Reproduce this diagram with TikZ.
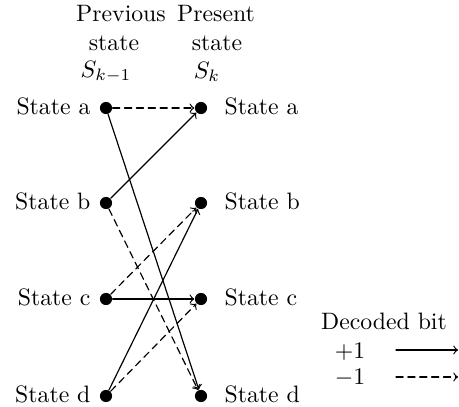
\documentclass[tikz,border=0pt]{standalone}
\usepackage{amsmath,amssymb}
\usepackage{tikz}
\usetikzlibrary{calc}

\begin{document}
\begin{tikzpicture}[x=0.0148cm, y=-0.0148cm, line join=round, line cap=round, >=to, line width=0.5pt]
	
	\tikzset{
		dot/.style={circle, fill, inner sep=0pt, minimum size=0.18cm},
		txt/.style={inner sep=0pt, text height=1.6ex, text depth=0.25ex},
		minus1/.style={->, dash pattern=on 3pt off 2pt}
	}
	
	% --- 0. 画布大小 ---
	\useasboundingbox (0,0) rectangle (459,407);
	
	% --- 1. 表头 ---
	\node[txt] (prev1) at (121,15) {Previous};
	\node[txt] (prev2) at (114,44) {state};
	\node[inner sep=0pt] (prev3) at (106,72) {$S_{k-1}$};
	\node[txt] (pres1) at (216,15) {Present};
	\node[txt] (pres2) at (217,44) {state};
	\node[inner sep=0pt] (pres3) at (207,72) {$S_k$};
	
	% --- 2. 状态点 (左: 前一状态, 右: 当前状态) ---
	\node[dot] (La) at (106,108) {};
	\node[dot] (Lb) at (106,203) {};
	\node[dot] (Lc) at (106,299) {};
	\node[dot] (Ld) at (106,396) {};
	
	\node[dot] (Ra) at (201,108) {};
	\node[dot] (Rb) at (201,203) {};
	\node[dot] (Rc) at (201,299) {};
	\node[dot] (Rd) at (201,396) {};
	
	% --- 3. 状态名称 ---
	\node[txt, anchor=east] (tLa) at (91,108) {State a};
	\node[txt, anchor=east] (tLb) at (91,203) {State b};
	\node[txt, anchor=east] (tLc) at (91,299) {State c};
	\node[txt, anchor=east] (tLd) at (91,396) {State d};
	
	\node[txt, anchor=west] (tRa) at (224,108) {State a};
	\node[txt, anchor=west] (tRb) at (224,203) {State b};
	\node[txt, anchor=west] (tRc) at (224,299) {State c};
	\node[txt, anchor=west] (tRd) at (224,396) {State d};
	
	% --- 4. 状态转移 ---
	% 实线: 译码比特 +1
	\draw[->] (La) -- (Rd);
	\draw[->] (Lb) -- (Ra);
	\draw[->] (Lc) -- (Rc);
	\draw[->] (Ld) -- (Rb);
	
	% 虚线: 译码比特 -1
	\draw[minus1] (La) -- (Ra);
	\draw[minus1] (Lb) -- (Rd);
	\draw[minus1] (Lc) -- (Rb);
	\draw[minus1] (Ld) -- (Rc);
	
	% --- 5. 图例 ---
	\node[txt] (bit) at (384,323) {Decoded bit};
	\node[txt] (plus) at (350,352) {$+1$};
	\node[txt] (minus) at (350,378) {$-1$};
	
	\coordinate (p1) at (396,350);
	\coordinate (p2) at (458,350);
	\coordinate (m1) at (396,377);
	\coordinate (m2) at (458,377);
	
	\draw[->] (p1) -- (p2);
	\draw[minus1] (m1) -- (m2);
	
\end{tikzpicture}
\end{document}
